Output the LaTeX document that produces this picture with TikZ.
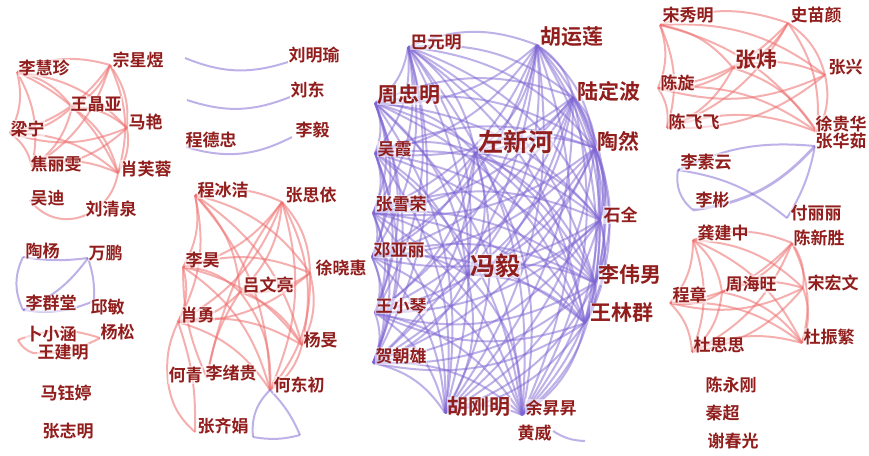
\documentclass[tikz,border=0pt]{standalone}
\usepackage{fontspec}
\newfontfamily\cjk{Noto Sans CJK SC}[BoldFont={Noto Sans CJK SC Bold}]
\definecolor{txt}{RGB}{145,30,28}
\definecolor{redE}{RGB}{238,110,110}
\definecolor{purE}{RGB}{125,100,210}
\begin{document}
\begin{tikzpicture}[x=1pt,y=-1pt,
 lab/.style={font=\cjk\bfseries\fontsize{17}{17}\selectfont, text=txt, anchor=west, inner sep=0.5pt, fill=white, fill opacity=0.55, text opacity=1},
 big/.style={font=\cjk\bfseries\fontsize{21}{21}\selectfont},
 huge/.style={font=\cjk\bfseries\fontsize{25}{25}\selectfont},
 re/.style={draw=redE, line width=2pt, opacity=0.55},
 pe/.style={draw=purE, line width=2pt, opacity=0.5},
]
\useasboundingbox (0,0) rectangle (869,455);
% ---------- vertex coordinates ----------
% cluster A
\coordinate (a1) at (17,72);  \coordinate (a2) at (110,65);  \coordinate (a3) at (72,107);
\coordinate (a4) at (127,128); \coordinate (a5) at (10,133); \coordinate (a6) at (32,167);
\coordinate (a7) at (118,173); \coordinate (a8) at (30,200); \coordinate (a9) at (88,214);
% cluster B
\coordinate (b1) at (23,257); \coordinate (b2) at (88,258); \coordinate (b3) at (23,310);
\coordinate (b4) at (94,301); \coordinate (b5) at (100,338); \coordinate (b6) at (18,340);
\coordinate (b7) at (33,353);
% cluster C
\coordinate (c1) at (288,62); \coordinate (cf1) at (185,58);
\coordinate (c2) at (290,97); \coordinate (cf2) at (187,100);
\coordinate (c3) at (292,137); \coordinate (c4) at (186,147);
% cluster D
\coordinate (d1) at (195,195); \coordinate (d2) at (282,202); \coordinate (d3) at (183,267);
\coordinate (d4) at (310,273); \coordinate (d5) at (240,292); \coordinate (d6) at (178,322);
\coordinate (d7) at (302,345); \coordinate (d8) at (168,382); \coordinate (d9) at (207,378);
\coordinate (d10) at (270,390); \coordinate (d11) at (195,432);
\coordinate (t1) at (253,437); \coordinate (t2) at (300,435);
% cluster E
\coordinate (e1) at (408,47);  \coordinate (e2) at (537,45);  \coordinate (e3) at (375,103);
\coordinate (e4) at (573,97);  \coordinate (e5) at (375,153); \coordinate (e6) at (475,153);
\coordinate (e7) at (595,148); \coordinate (e8) at (373,213); \coordinate (e9) at (600,220);
\coordinate (e10) at (372,257); \coordinate (e11) at (467,275); \coordinate (e12) at (595,283);
\coordinate (e13) at (585,323); \coordinate (e14) at (375,313); \coordinate (e15) at (373,363);
\coordinate (e16) at (445,413); \coordinate (e17) at (522,415);
\coordinate (e18) at (553,431); \coordinate (ef) at (585,441);
% cluster F
\coordinate (f1) at (660,25); \coordinate (f2) at (788,23); \coordinate (f3) at (733,68);
\coordinate (f4) at (825,75); \coordinate (f5) at (658,88); \coordinate (f6) at (667,128);
\coordinate (f7) at (817,132);
% cluster G
\coordinate (g1) at (815,146); \coordinate (g2) at (678,170); \coordinate (g3) at (693,210);
\coordinate (g4) at (787,218);
% cluster H
\coordinate (h1) at (693,240); \coordinate (h2) at (792,243); \coordinate (h3) at (722,292);
\coordinate (h4) at (803,288); \coordinate (h5) at (670,303); \coordinate (h6) at (692,352);
\coordinate (h7) at (802,343);

% ---------- edges ----------
\newcommand\complete[3]{%
 \foreach [count=\i] \p in {#3} {\foreach [count=\j] \q in {#3} {\ifnum\i<\j \draw[#1] (\p) to[bend left=#2] (\q);\fi}}}
\complete{re}{20}{a1,a2,a3,a4,a5,a6,a7}
\draw[re] (a8) to[bend right=40] (a9);
\draw[re] (a9) to[bend right=25] (a7);

\draw[pe] (b1) to[bend right=8] (b2);
\draw[pe] (b1) to[bend right=25] (b3);
\draw[pe] (b2) to[bend left=10] (b4);
\draw[pe] (b2) to[bend left=15] (b3);
\draw[pe] (b3) to[bend right=15] (b4);
\draw[re] (b6) to[bend left=20] (b5);
\draw[re] (b6) to[bend right=20] (b7);
\draw[re] (b7) to[bend right=15] (b5);

\draw[pe] (cf1) to[bend right=20] (c1);
\draw[pe] (cf2) to[bend right=20] (c2);
\draw[pe] (c4) to[bend right=22] (c3);

\complete{re}{20}{d1,d2,d3,d4,d5,d6,d7,d10}
\draw[re] (d9) to[bend left=12] (d3);
\draw[re] (d9) to[bend left=12] (d5);
\draw[re] (d9) to[bend left=12] (d2);
\draw[re] (d8) to[bend right=20] (d11);
\draw[re] (d6) to[bend left=10] (d11);
\draw[re] (d6) to[bend right=15] (d8);
\draw[pe] (d10) to[bend right=25] (t1);
\draw[pe] (t1) to[bend right=12] (t2);
\draw[pe] (t2) to[bend right=10] (d10);

\complete{pe}{22}{e1,e2,e3,e4,e5,e6,e7,e8,e9,e10,e11,e12,e13,e14,e15,e16,e17}
\draw[pe] (e18) to[bend right=15] (ef);

\complete{re}{20}{f1,f2,f3,f4,f5,f6,f7}

\draw[pe] (g1) to[bend right=15] (g2);
\draw[pe, line width=2.8pt] (g1) to[bend left=20] (g3);
\draw[pe] (g2) to[bend right=30] (g3);
\draw[pe] (g2) to[bend left=15] (g4);
\draw[pe] (g1) to[bend left=10] (g4);

\complete{re}{20}{h1,h2,h3,h4,h5,h6,h7}

% ---------- labels ----------
\node[lab] (la1) at (18,68) {李慧珍};
\node[lab] (la2) at (112,60) {宗星煜};
\node[lab] (la3) at (70,104) {王晶亚};
\node[lab] (la4) at (128,122) {马艳};
\node[lab] (la5) at (10,129) {梁宁};
\node[lab] (la6) at (30,164) {焦丽雯};
\node[lab] (la7) at (120,169) {肖芙蓉};
\node[lab] (la8) at (30,198) {吴迪};
\node[lab] (la9) at (85,209) {刘清泉};

\node[lab] (lb1) at (25,251) {陶杨};
\node[lab] (lb2) at (88,253) {万鹏};
\node[lab] (lb3) at (25,303) {李群堂};
\node[lab] (lb4) at (90,307) {邱敏};
\node[lab] (lb5) at (100,332) {杨松};
\node[lab] (lb6) at (25,334) {卜小涵};
\node[lab] (lb7) at (37,352) {王建明};
\node[lab] (lb8) at (40,393) {马钰婷};
\node[lab] (lb9) at (42,431) {张志明};

\node[lab] (lc1) at (288,55) {刘明瑜};
\node[lab] (lc2) at (290,90) {刘东};
\node[lab] (lc3) at (295,130) {李毅};
\node[lab] (lc4) at (185,140) {程德忠};

\node[lab] (ld1) at (197,190) {程冰洁};
\node[lab] (ld2) at (285,195) {张思依};
\node[lab] (ld3) at (185,260) {李昊};
\node[lab] (ld4) at (315,268) {徐晓惠};
\node[lab] (ld5) at (242,285) {吕文亮};
\node[lab] (ld6) at (180,315) {肖勇};
\node[lab] (ld7) at (303,340) {杨旻};
\node[lab] (ld8) at (168,375) {何青};
\node[lab] (ld9) at (205,373) {李绪贵};
\node[lab] (ld10) at (273,385) {何东初};
\node[lab] (ld11) at (197,426) {张齐娟};

\node[lab] (le1) at (410,42) {巴元明};
\node[lab,big] (le2) at (540,37) {胡运莲};
\node[lab,big] (le3) at (377,95) {周忠明};
\node[lab,big] (le4) at (577,91) {陆定波};
\node[lab] (le5) at (377,149) {吴霞};
\node[lab,huge] (le6) at (478,142) {左新河};
\node[lab,big] (le7) at (597,141) {陶然};
\node[lab] (le8) at (375,204) {张雪荣};
\node[lab] (le9) at (603,215) {石全};
\node[lab] (le10) at (373,250) {邓亚丽};
\node[lab,huge] (le11) at (470,266) {冯毅};
\node[lab,big] (le12) at (598,275) {李伟男};
\node[lab,big] (le13) at (590,313) {王林群};
\node[lab] (le14) at (375,306) {王小琴};
\node[lab] (le15) at (375,356) {贺朝雄};
\node[lab,big] (le16) at (447,407) {胡刚明};
\node[lab] (le17) at (525,408) {余昇昇};
\node[lab] (le18) at (517,433) {黄威};

\node[lab] (lf1) at (662,15) {宋秀明};
\node[lab] (lf2) at (790,15) {史苗颜};
\node[lab,big] (lf3) at (735,60) {张炜};
\node[lab] (lf4) at (828,67) {张兴};
\node[lab] (lf5) at (660,83) {陈旋};
\node[lab] (lf6) at (668,122) {陈飞飞};
\node[lab] (lf7) at (815,124) {徐贵华};

\node[lab] (lg1) at (815,141) {张华茹};
\node[lab] (lg2) at (680,162) {李素云};
\node[lab] (lg3) at (695,200) {李彬};
\node[lab] (lg4) at (790,213) {付丽丽};

\node[lab] (lh1) at (697,233) {龚建中};
\node[lab] (lh2) at (793,238) {陈新胜};
\node[lab] (lh3) at (725,284) {周海旺};
\node[lab] (lh4) at (807,283) {宋宏文};
\node[lab] (lh5) at (672,295) {程章};
\node[lab] (lh6) at (693,345) {杜思思};
\node[lab] (lh7) at (803,337) {杜振繁};
\node[lab] (lh8) at (705,385) {陈永刚};
\node[lab] (lh9) at (705,413) {秦超};
\node[lab] (lh10) at (707,441) {谢春光};
\end{tikzpicture}
\end{document}
